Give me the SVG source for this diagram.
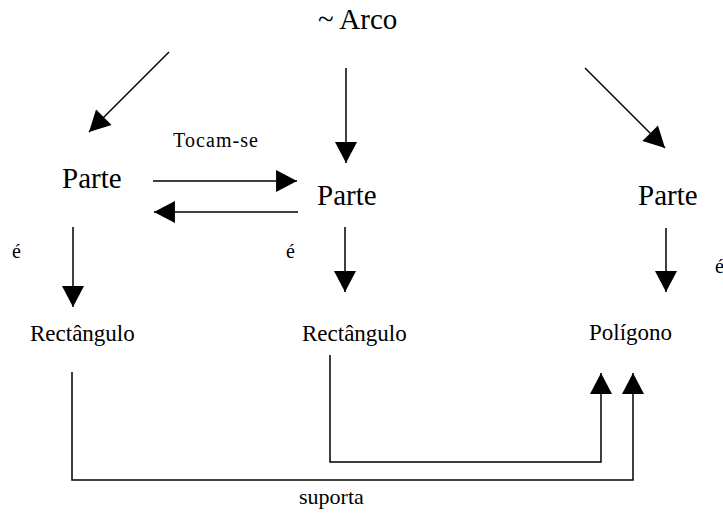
<svg xmlns="http://www.w3.org/2000/svg" width="723" height="514" viewBox="0 0 723 514" font-family="'Liberation Serif', 'DejaVu Serif', serif">
<style>
text { font-family: 'Liberation Serif', 'DejaVu Serif', serif; fill: #000; }
.big { font-size: 29px; }
.mid { font-size: 23px; }
.small { font-size: 20px; }
.c { stroke: #000; stroke-width: 1.5; fill: none; }
.a { marker-end: url(#ah); }
</style>
<defs>
<marker id="ah" markerUnits="userSpaceOnUse" markerWidth="22" markerHeight="22" refX="20" refY="10.5" orient="auto" viewBox="0 0 20 21">
<path d="M0,0 L20,10.5 L0,21 Z" fill="#000"/>
</marker>
</defs>
<rect width="723" height="514" fill="#fff"/>
<g id="connectors">
<line class="c a" x1="169" y1="52" x2="89" y2="132"/>
<line class="c a" x1="346" y1="68" x2="346" y2="163"/>
<line class="c a" x1="585" y1="68" x2="665" y2="148"/>
<line class="c a" x1="153" y1="181" x2="297" y2="181"/>
<line class="c a" x1="298" y1="212" x2="154" y2="212"/>
<line class="c a" x1="73" y1="227" x2="73" y2="307"/>
<line class="c a" x1="345" y1="227" x2="345" y2="292"/>
<line class="c a" x1="666" y1="228" x2="666" y2="292"/>
<polyline class="c a" points="330,355 330,462 601,462 601,373"/>
<polyline class="c a" points="72,372 72,480 633,480 633,373"/>
</g>
<g id="arco"><text class="big" x="318" y="29">~ Arco</text></g>
<g id="parte1"><text class="big" x="62" y="188">Parte</text></g>
<g id="parte2"><text class="big" x="317" y="205">Parte</text></g>
<g id="parte3"><text class="big" x="638" y="205">Parte</text></g>
<g id="rect1"><text class="mid" x="30" y="341">Rectângulo</text></g>
<g id="rect2"><text class="mid" x="302" y="341">Rectângulo</text></g>
<g id="poligono"><text class="mid" x="589" y="340">Polígono</text></g>
<g id="labels">
<text class="small" x="173" y="147" textLength="85" lengthAdjust="spacing">Tocam-se</text>
<text class="small" x="12" y="258">é</text>
<text class="small" x="286" y="258">é</text>
<text class="small" x="715" y="273">é</text>
<text class="mid" x="299" y="504" style="font-size:22px">suporta</text>
</g>
</svg>
